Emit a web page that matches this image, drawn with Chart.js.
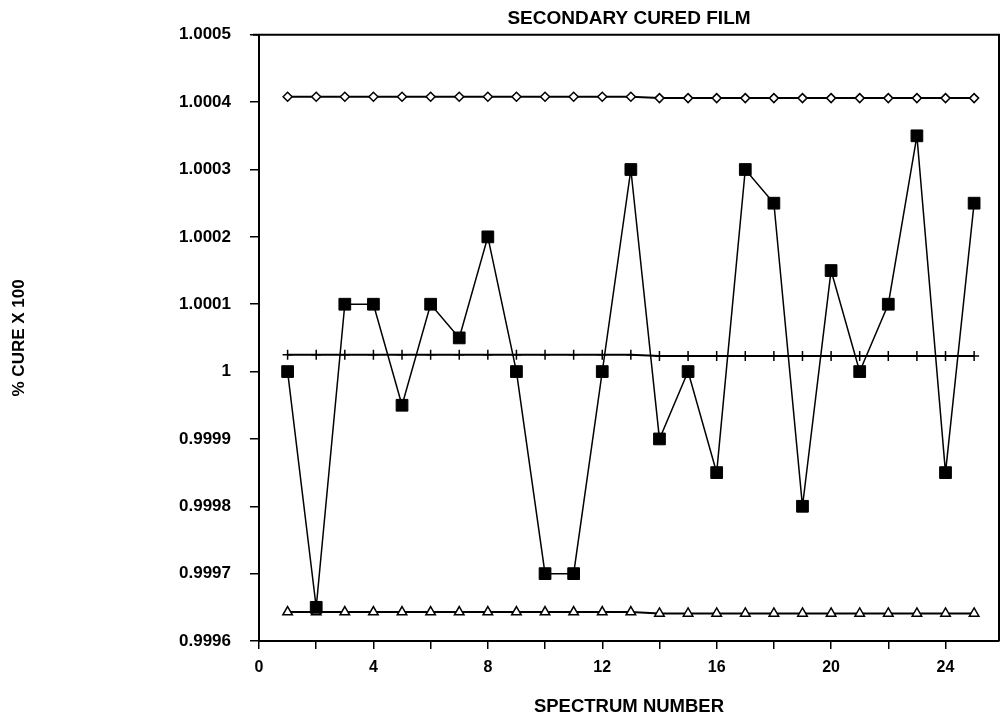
<!DOCTYPE html>
<html>
<head>
<meta charset="utf-8">
<script src="https://cdn.jsdelivr.net/npm/chart.js@4/dist/chart.umd.min.js"></script>
<style>
  html, body { margin: 0; padding: 0; background: #ffffff; overflow: hidden; }
  #wrap { position: relative; width: 1000px; height: 721px; }
  canvas { display: block; }
</style>
</head>
<body>
<div id="wrap"><canvas id="c"></canvas></div>
<script>
// ---- data ----
const spectrum = [1,2,3,4,5,6,7,8,9,10,11,12,13,14,15,16,17,18,19,20,21,22,23,24,25];
const cure = [1.0000, 0.99965, 1.0001, 1.0001, 0.99995, 1.0001, 1.00005, 1.0002, 1.0000, 0.9997,
              0.9997, 1.0000, 1.0003, 0.9999, 1.0000, 0.99985, 1.0003, 1.00025, 0.9998, 1.00015,
              1.0000, 1.0001, 1.00035, 0.99985, 1.00025];
const upperLimit = [1.000408,1.000408,1.000408,1.000408,1.000408,1.000408,1.000408,1.000408,1.000408,1.000408,
                    1.000408,1.000408,1.000408,1.000406,1.000406,1.000406,1.000406,1.000406,1.000406,1.000406,
                    1.000406,1.000406,1.000406,1.000406,1.000406];
const centerLine = [1.000025,1.000025,1.000025,1.000025,1.000025,1.000025,1.000025,1.000025,1.000025,1.000025,
                    1.000025,1.000025,1.000025,1.000023,1.000023,1.000023,1.000023,1.000023,1.000023,1.000023,
                    1.000023,1.000023,1.000023,1.000023,1.000023];
const lowerLimit = [0.999643,0.999643,0.999643,0.999643,0.999643,0.999643,0.999643,0.999643,0.999643,0.999643,
                    0.999643,0.999643,0.999643,0.999641,0.999641,0.999641,0.999641,0.999641,0.999641,0.999641,
                    0.999641,0.999641,0.999641,0.999641,0.999641];
const yTickValues = [0.9996, 0.9997, 0.9998, 0.9999, 1.0000, 1.0001, 1.0002, 1.0003, 1.0004, 1.0005];
const yTickLabels = ['0.9996', '0.9997', '0.9998', '0.9999', '1', '1.0001', '1.0002', '1.0003', '1.0004', '1.0005'];
const xTickValues = [0, 2, 4, 6, 8, 10, 12, 14, 16, 18, 20, 22, 24];
const xTickLabels = ['0', '', '4', '', '8', '', '12', '', '16', '', '20', '', '24'];

const FONT = "'Liberation Sans', Arial, Helvetica, sans-serif";
const pts = (ys) => spectrum.map((s, i) => ({ x: s, y: ys[i] }));

const framePlugin = {
  id: 'frame',
  afterDraw(chart) {
    const { ctx, chartArea: a } = chart;
    ctx.save();
    ctx.strokeStyle = '#000';
    ctx.lineWidth = 2;
    ctx.beginPath();
    ctx.moveTo(a.left - 6, a.top);
    ctx.lineTo(a.right, a.top);
    ctx.lineTo(a.right, a.bottom);
    ctx.stroke();
    ctx.restore();
  }
};

new Chart(document.getElementById('c'), {
  type: 'line',
  data: {
    datasets: [
      {
        label: 'cure',
        data: pts(cure),
        borderColor: '#000',
        borderWidth: 1.5,
        pointStyle: 'rect',
        pointRadius: 8.3,
        pointBackgroundColor: '#000',
        pointBorderColor: '#000',
        pointBorderWidth: 1,
        tension: 0,
        clip: false
      },
      {
        label: 'upper',
        data: pts(upperLimit),
        borderColor: '#000',
        borderWidth: 2,
        pointStyle: 'rectRot',
        pointRadius: 4.5,
        pointBackgroundColor: '#fff',
        pointBorderColor: '#000',
        pointBorderWidth: 1.5,
        tension: 0,
        clip: false
      },
      {
        label: 'center',
        data: pts(centerLine),
        borderColor: '#000',
        borderWidth: 2,
        pointStyle: 'cross',
        pointRadius: 5,
        pointBorderColor: '#000',
        pointBorderWidth: 1.5,
        tension: 0,
        clip: false
      },
      {
        label: 'lower',
        data: pts(lowerLimit),
        borderColor: '#000',
        borderWidth: 2,
        pointStyle: 'triangle',
        pointRadius: 5.5,
        pointBackgroundColor: '#fff',
        pointBorderColor: '#000',
        pointBorderWidth: 1.5,
        tension: 0,
        clip: false
      }
    ]
  },
  options: {
    responsive: true,
    maintainAspectRatio: false,
    animation: false,
    events: [],
    layout: { autoPadding: false, padding: { left: 0, right: 1, top: 0, bottom: 0 } },
    plugins: {
      legend: { display: false },
      tooltip: { enabled: false },
      title: {
        display: true,
        text: 'SECONDARY CURED FILM',
        color: '#000',
        fullSize: false,
        font: { family: FONT, size: 19, weight: 'bold' },
        padding: { top: 7, bottom: 5 }
      }
    },
    scales: {
      x: {
        type: 'linear',
        min: 0,
        max: 25.87,
        afterBuildTicks(scale) { scale.ticks = xTickValues.map(v => ({ value: v })); },
        afterFit(scale) { scale.height = 80; scale.paddingLeft = 0; scale.paddingRight = 0; },
        ticks: {
          color: '#000',
          font: { family: FONT, size: 16, weight: 'bold' },
          padding: 9,
          maxRotation: 0,
          autoSkip: false,
          callback(value, index) { return xTickLabels[index]; }
        },
        grid: {
          display: true,
          drawOnChartArea: false,
          drawTicks: true,
          tickLength: 8,
          color: '#000',
          lineWidth: 1.5
        },
        border: { display: true, color: '#000', width: 2 },
        title: {
          display: true,
          text: 'SPECTRUM NUMBER',
          color: '#000',
          font: { family: FONT, size: 18.5, weight: 'bold' },
          padding: { top: 0, bottom: 3 }
        }
      },
      y: {
        type: 'linear',
        min: 0.9996,
        max: 1.0005,
        afterBuildTicks(scale) { scale.ticks = yTickValues.map(v => ({ value: v })); },
        afterFit(scale) { scale.width = 259; },
        ticks: {
          color: '#000',
          font: { family: FONT, size: 17, weight: 'bold' },
          padding: 19,
          autoSkip: false,
          callback(value, index) { return yTickLabels[index]; }
        },
        grid: {
          display: true,
          drawOnChartArea: false,
          drawTicks: true,
          tickLength: 9,
          color: '#000',
          lineWidth: 1.5
        },
        border: { display: true, color: '#000', width: 2 },
        title: {
          display: true,
          text: '% CURE X 100',
          color: '#000',
          font: { family: FONT, size: 17, weight: 'bold' },
          padding: { top: 9, bottom: 0 }
        }
      }
    }
  },
  plugins: [framePlugin]
});
</script>
</body>
</html>
